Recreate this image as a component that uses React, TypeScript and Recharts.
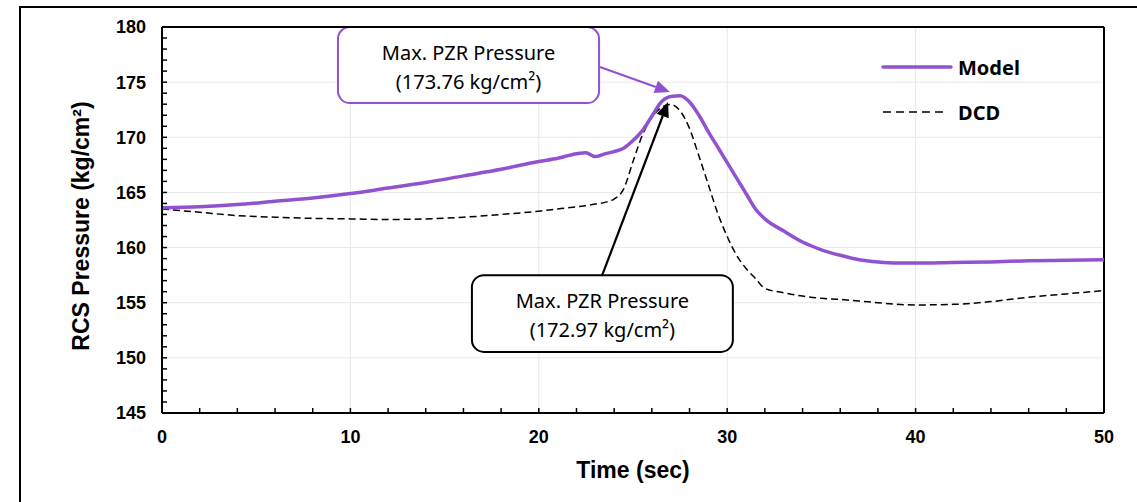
import React from 'react';
import {
  CartesianGrid,
  Legend,
  Line,
  LineChart,
  ReferenceArea,
  ReferenceLine,
  XAxis,
  YAxis,
} from 'recharts';

const time = [
  0, 2, 4, 6, 8, 10, 12, 14, 16, 18, 20, 21, 22, 22.5, 23, 23.5, 24, 24.5, 25, 25.5, 26, 26.5, 27,
  27.5, 28, 28.5, 29, 29.5, 30, 30.5, 31, 31.5, 32, 33, 34, 35, 36, 37, 38, 39, 40, 42, 44, 46, 48, 50,
];

const modelPressure = [
  163.6, 163.7, 163.9, 164.2, 164.5, 164.9, 165.4, 165.9, 166.5, 167.1, 167.8, 168.1, 168.5, 168.6,
  168.25, 168.5, 168.7, 169.0, 169.7, 170.6, 171.9, 173.2, 173.7, 173.76, 173.2, 172.0, 170.5, 169.1,
  167.7, 166.3, 164.9, 163.5, 162.6, 161.5, 160.5, 159.8, 159.3, 158.9, 158.7, 158.6, 158.6, 158.65,
  158.7, 158.8, 158.85, 158.9,
];

const dcdPressure = [
  163.5, 163.2, 162.9, 162.75, 162.65, 162.6, 162.55, 162.6, 162.75, 163.0, 163.3, 163.5, 163.7,
  163.8, 163.95, 164.1, 164.4, 165.3, 167.8, 170.2, 171.8, 172.7, 172.97, 172.4, 170.8, 168.3, 165.7,
  163.1, 161.0, 159.3, 158.1, 157.2, 156.3, 155.9, 155.6, 155.4, 155.3, 155.15, 155.0, 154.85, 154.8,
  154.85, 155.1, 155.5, 155.8, 156.1,
];

const xTicks = [0, 2, 4, 6, 8, 10, 12, 14, 16, 18, 20, 22, 24, 26, 28, 30, 32, 34, 36, 38, 40, 42, 44, 46, 48, 50];
const yTicks = [
  145, 146, 147, 148, 149, 150, 151, 152, 153, 154, 155, 156, 157, 158, 159, 160, 161, 162, 163, 164,
  165, 166, 167, 168, 169, 170, 171, 172, 173, 174, 175, 176, 177, 178, 179, 180,
];
const xGrid = [10, 20, 30, 40];
const yGrid = [150, 155, 160, 165, 170, 175];

const modelCallout = ['Max. PZR Pressure', '(173.76 kg/cm²)'];
const dcdCallout = ['Max. PZR Pressure', '(172.97 kg/cm²)'];

const PURPLE = '#9152D2';
const AXIS_FONT = 'Liberation Sans, Arial, sans-serif';
const NOTE_FONT = 'Noto Sans, sans-serif';

const data = time.map((t, i) => ({ time: t, model: modelPressure[i], dcd: dcdPressure[i] }));

const calloutBox = (stroke: string, lines: string[]) => (props: any) => {
  const { x, y, width, height } = props;
  const cx = x + width / 2;
  const cy = y + height / 2;
  return (
    <g>
      <rect x={x} y={y} width={width} height={height} rx={12} ry={12} fill="#fff" stroke={stroke} strokeWidth={2} />
      <text x={cx} y={cy - 13} textAnchor="middle" dominantBaseline="central" fontFamily={NOTE_FONT} fontSize={20} fill="#000">
        {lines[0]}
      </text>
      <text x={cx} y={cy + 16} textAnchor="middle" dominantBaseline="central" fontFamily={NOTE_FONT} fontSize={20} fill="#000">
        {lines[1]}
      </text>
    </g>
  );
};

const arrow = (color: string) => (props: any) => {
  const { x1, y1, x2, y2 } = props;
  const a = Math.atan2(y2 - y1, x2 - x1);
  const len = 15;
  const half = 6.5;
  const bx = x2 - len * Math.cos(a);
  const by = y2 - len * Math.sin(a);
  const pts = [
    `${x2},${y2}`,
    `${bx - half * Math.sin(a)},${by + half * Math.cos(a)}`,
    `${bx + half * Math.sin(a)},${by - half * Math.cos(a)}`,
  ].join(' ');
  return (
    <g>
      <line x1={x1} y1={y1} x2={bx} y2={by} stroke={color} strokeWidth={2.2} />
      <polygon points={pts} fill={color} />
    </g>
  );
};

const YTitle = (props: any) => {
  const { viewBox } = props;
  const cx = viewBox.x + viewBox.width / 2;
  const cy = viewBox.y + viewBox.height / 2 + 6;
  return (
    <text
      x={cx}
      y={cy}
      transform={`rotate(-90 ${cx} ${cy})`}
      textAnchor="middle"
      dominantBaseline="central"
      fontFamily={AXIS_FONT}
      fontWeight={700}
      fontSize={23}
      fill="#000"
    >
      RCS Pressure (kg/cm²)
    </text>
  );
};

const XTitle = (props: any) => {
  const { viewBox } = props;
  return (
    <text
      x={viewBox.x + viewBox.width / 2}
      y={viewBox.y + 65}
      textAnchor="middle"
      fontFamily={AXIS_FONT}
      fontWeight={700}
      fontSize={23}
      fill="#000"
    >
      Time (sec)
    </text>
  );
};

const LegendBox = () => (
  <div style={{ fontFamily: NOTE_FONT, fontWeight: 700, fontSize: 20, color: '#000' }}>
    <div style={{ display: 'flex', alignItems: 'center', height: 24 }}>
      <svg width={78} height={10}>
        <line x1={3} y1={5} x2={71} y2={5} stroke={PURPLE} strokeWidth={3.5} strokeLinecap="round" />
      </svg>
      <span>Model</span>
    </div>
    <div style={{ display: 'flex', alignItems: 'center', height: 24, marginTop: 21 }}>
      <svg width={78} height={10}>
        <line x1={3} y1={5} x2={66} y2={5} stroke="#000" strokeWidth={1.6} strokeDasharray="8 5" />
      </svg>
      <span>DCD</span>
    </div>
  </div>
);

const App = () => {
  return (
    <div style={{ position: 'absolute', left: 0, top: 0, width: 1137, height: 502, overflow: 'hidden', background: '#fff' }}>
      <div
        style={{
          position: 'absolute',
          left: 19,
          top: 6,
          width: 1200,
          height: 600,
          borderTop: '2px solid #000',
          borderLeft: '2px solid #000',
        }}
      />
      <div style={{ position: 'absolute', left: 0, top: 0 }}>
        <LineChart width={1137} height={502} data={data} margin={{ top: 27, right: 33, left: 0, bottom: 0 }}>
          <CartesianGrid stroke="#e8e8e8" horizontalValues={yGrid} verticalValues={xGrid} />
          <XAxis
            dataKey="time"
            type="number"
            domain={[0, 50]}
            ticks={xTicks}
            interval={0}
            height={89}
            tickFormatter={(v: number) => (v % 10 === 0 ? String(v) : '')}
            tickSize={-5}
            tickMargin={22}
            tick={{ fill: '#000', fontSize: 18, fontWeight: 700, fontFamily: AXIS_FONT }}
            tickLine={{ stroke: '#000', strokeWidth: 1.5 }}
            axisLine={{ stroke: '#000', strokeWidth: 2 }}
            label={<XTitle />}
          />
          <YAxis
            type="number"
            domain={[145, 180]}
            ticks={yTicks}
            interval={0}
            width={162}
            tickFormatter={(v: number) => (v % 5 === 0 ? String(v) : '')}
            tickSize={-5}
            tickMargin={21}
            tick={{ fill: '#000', fontSize: 18, fontWeight: 700, fontFamily: AXIS_FONT }}
            tickLine={{ stroke: '#000', strokeWidth: 1.5 }}
            axisLine={{ stroke: '#000', strokeWidth: 2 }}
            label={<YTitle />}
          />
          <ReferenceLine y={180} stroke="#000" strokeWidth={2} />
          <ReferenceLine x={50} stroke="#000" strokeWidth={2} />
          <Line
            type="monotone"
            dataKey="dcd"
            name="DCD"
            stroke="#000"
            strokeWidth={1.5}
            strokeDasharray="7 4"
            dot={false}
            isAnimationActive={false}
          />
          <Line
            type="monotone"
            dataKey="model"
            name="Model"
            stroke={PURPLE}
            strokeWidth={3.5}
            dot={false}
            isAnimationActive={false}
          />
          <ReferenceArea x1={9.34} x2={23.2} y1={173.1} y2={180} shape={calloutBox(PURPLE, modelCallout)} />
          <ReferenceArea x1={16.45} x2={30.3} y1={150.54} y2={157.5} shape={calloutBox('#000', dcdCallout)} />
          <ReferenceLine
            segment={[
              { x: 23.25, y: 176.37 },
              { x: 26.96, y: 174.11 },
            ]}
            shape={arrow(PURPLE)}
          />
          <ReferenceLine
            segment={[
              { x: 23.35, y: 157.43 },
              { x: 26.86, y: 173.2 },
            ]}
            shape={arrow('#000')}
          />
          <Legend
            layout="horizontal"
            verticalAlign="middle"
            align="center"
            content={<LegendBox />}
            wrapperStyle={{ position: 'absolute', left: 880, top: 55, width: 160 }}
          />
        </LineChart>
      </div>
    </div>
  );
};

export default App;
